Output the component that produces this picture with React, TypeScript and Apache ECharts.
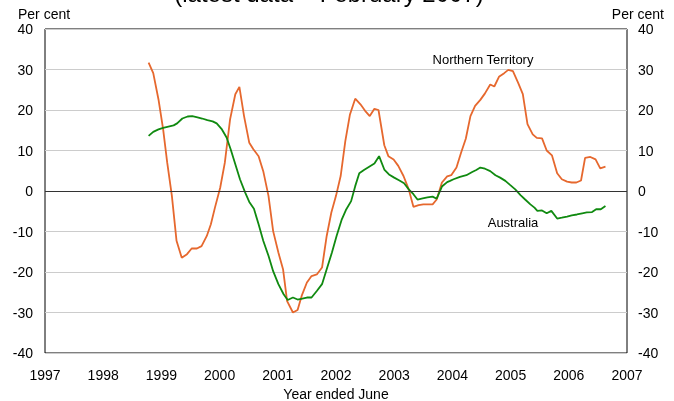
import React, { useEffect, useRef } from "react";
import * as echarts from "echarts";

const xTickYears = [1997, 1998, 1999, 2000, 2001, 2002, 2003, 2004, 2005, 2006, 2007];
const yTicks = [-40, -30, -20, -10, 0, 10, 20, 30, 40];

// [year position, per cent]
const ntData: [number, number][] = [
  [1998.78, 31.7], [1998.86, 29.1], [1998.95, 22.6], [1999.03, 15.2], [1999.1, 7.0], [1999.18, -1.2],
  [1999.26, -12.3], [1999.35, -16.5], [1999.44, -15.6], [1999.52, -14.2], [1999.61, -14.2], [1999.69, -13.6],
  [1999.78, -11.1], [1999.85, -8.2], [1999.92, -4.1], [2000.01, 0.8], [2000.09, 7.0], [2000.18, 17.7],
  [2000.27, 23.9], [2000.34, 25.7], [2000.42, 18.5], [2000.51, 11.9], [2000.58, 10.3], [2000.67, 8.6],
  [2000.75, 4.9], [2000.84, -1.2], [2000.92, -9.9], [2001.01, -15.2], [2001.09, -19.3], [2001.16, -27.2],
  [2001.26, -30.0], [2001.34, -29.4], [2001.41, -25.9], [2001.5, -22.6], [2001.58, -21.0], [2001.67, -20.6],
  [2001.76, -18.9], [2001.84, -11.1], [2001.92, -5.3], [2002.0, -1.2], [2002.08, 3.7], [2002.16, 12.3],
  [2002.24, 18.9], [2002.33, 22.8], [2002.42, 21.4], [2002.5, 19.8], [2002.58, 18.5], [2002.66, 20.3],
  [2002.73, 20.0], [2002.83, 11.3], [2002.9, 8.6], [2002.99, 7.8], [2003.07, 6.2], [2003.16, 3.7],
  [2003.25, 0.4], [2003.33, -3.9], [2003.42, -3.5], [2003.5, -3.3], [2003.59, -3.3], [2003.66, -3.3],
  [2003.73, -2.1], [2003.82, 2.1], [2003.91, 3.6], [2003.98, 3.9], [2004.07, 5.8], [2004.15, 9.5],
  [2004.23, 12.9], [2004.31, 18.5], [2004.39, 21.0], [2004.48, 22.5], [2004.56, 24.1], [2004.65, 26.3],
  [2004.72, 25.8], [2004.8, 28.2], [2004.89, 29.1], [2004.96, 29.9], [2005.04, 29.6], [2005.13, 26.7],
  [2005.21, 23.9], [2005.29, 16.5], [2005.38, 14.0], [2005.45, 13.1], [2005.54, 13.0], [2005.62, 10.0],
  [2005.71, 8.8], [2005.8, 4.4], [2005.88, 2.9], [2005.97, 2.3], [2006.05, 2.1], [2006.13, 2.1],
  [2006.21, 2.6], [2006.28, 8.2], [2006.37, 8.4], [2006.46, 7.8], [2006.54, 5.6], [2006.63, 6.0],
];

const ausData: [number, number][] = [
  [1998.78, 13.6], [1998.86, 14.6], [1998.95, 15.2], [1999.03, 15.6], [1999.12, 15.9], [1999.21, 16.2],
  [1999.27, 16.7], [1999.36, 17.9], [1999.45, 18.4], [1999.53, 18.5], [1999.62, 18.2], [1999.7, 17.9],
  [1999.79, 17.5], [1999.88, 17.2], [1999.95, 16.7], [2000.04, 15.2], [2000.12, 13.2], [2000.19, 10.3],
  [2000.27, 6.6], [2000.35, 2.9], [2000.44, -0.4], [2000.51, -2.7], [2000.59, -4.4], [2000.67, -8.2],
  [2000.75, -12.3], [2000.84, -16.0], [2000.92, -19.8], [2001.01, -23.0], [2001.1, -25.5], [2001.17, -26.9],
  [2001.26, -26.3], [2001.34, -26.8], [2001.42, -26.6], [2001.5, -26.3], [2001.58, -26.3], [2001.67, -24.7],
  [2001.76, -23.0], [2001.84, -19.3], [2001.93, -15.2], [2002.01, -11.1], [2002.1, -7.0], [2002.17, -4.7],
  [2002.26, -2.5], [2002.33, 1.2], [2002.4, 4.4], [2002.48, 5.2], [2002.57, 6.0], [2002.66, 6.8],
  [2002.74, 8.6], [2002.83, 5.3], [2002.91, 4.1], [2003.0, 3.3], [2003.09, 2.6], [2003.17, 1.9],
  [2003.25, 0.4], [2003.33, -0.8], [2003.4, -2.1], [2003.49, -1.8], [2003.57, -1.6], [2003.66, -1.4],
  [2003.73, -1.9], [2003.82, 1.1], [2003.91, 2.2], [2003.96, 2.5], [2004.02, 2.9], [2004.13, 3.5],
  [2004.24, 3.9], [2004.34, 4.7], [2004.41, 5.2], [2004.48, 5.8], [2004.56, 5.5], [2004.65, 4.9],
  [2004.74, 3.9], [2004.82, 3.3], [2004.91, 2.5], [2004.99, 1.5], [2005.08, 0.4], [2005.17, -1.0],
  [2005.25, -2.1], [2005.34, -3.3], [2005.41, -4.1], [2005.46, -4.9], [2005.54, -4.8], [2005.62, -5.5],
  [2005.7, -4.9], [2005.8, -6.8], [2005.88, -6.6], [2005.97, -6.3], [2006.05, -6.0], [2006.14, -5.8],
  [2006.23, -5.5], [2006.31, -5.3], [2006.4, -5.2], [2006.47, -4.5], [2006.55, -4.5], [2006.63, -3.7],
];

const FONT = "'Liberation Sans', Arial, sans-serif";

export default function App() {
  const ref = useRef<HTMLDivElement>(null);
  useEffect(() => {
    if (!ref.current) return;
    const chart = echarts.init(ref.current, undefined, { renderer: "svg" });
    const yAxisCommon = {
      type: "value",
      min: yTicks[0],
      max: yTicks[yTicks.length - 1],
      interval: 10,
      axisLine: { show: false },
      axisTick: { show: false },
      axisLabel: { color: "#000", fontSize: 14, fontFamily: FONT },
    };
    chart.setOption({
      animation: false,
      textStyle: { fontFamily: FONT },
      grid: {
        left: 45,
        right: 47,
        top: 29,
        bottom: 48,
        show: true,
        borderColor: "#000",
        borderWidth: 1,
        backgroundColor: "transparent",
      },
      xAxis: {
        type: "value",
        min: xTickYears[0],
        max: xTickYears[xTickYears.length - 1],
        interval: 1,
        axisLine: { show: false },
        axisTick: { show: false },
        splitLine: { show: false },
        axisLabel: {
          color: "#000",
          fontSize: 14,
          fontFamily: FONT,
          margin: 15,
          formatter: (v: number) => String(Math.round(v)),
        },
      },
      yAxis: [
        {
          ...yAxisCommon,
          position: "left",
          axisLabel: { ...yAxisCommon.axisLabel, margin: 12 },
          splitLine: { show: true, lineStyle: { color: "#cccccc", width: 1 } },
        },
        {
          ...yAxisCommon,
          position: "right",
          axisLabel: { ...yAxisCommon.axisLabel, margin: 11 },
          splitLine: { show: false },
        },
      ],
      series: [
        {
          name: "Australia",
          type: "line",
          data: ausData,
          showSymbol: false,
          lineStyle: { color: "#108a10", width: 1.8 },
          itemStyle: { color: "#108a10" },
          z: 3,
          markLine: {
            silent: true,
            symbol: "none",
            label: { show: false },
            lineStyle: { color: "#333", width: 1, type: "solid" },
            data: [{ yAxis: 0 }],
          },
        },
        {
          name: "Northern Territory",
          type: "line",
          data: ntData,
          showSymbol: false,
          lineStyle: { color: "#e6682e", width: 1.8 },
          itemStyle: { color: "#e6682e" },
          z: 2,
        },
      ],
      graphic: [
        {
          type: "text",
          x: 329,
          y: -7,
          style: {
            text: "(latest data \u2013 February 2007)",
            font: `24px ${FONT}`,
            fill: "#000",
            align: "center",
            verticalAlign: "middle",
          },
        },
        {
          type: "text",
          x: 18,
          y: 14,
          style: { text: "Per cent", font: `14px ${FONT}`, fill: "#000", align: "left", verticalAlign: "middle" },
        },
        {
          type: "text",
          x: 664,
          y: 14,
          style: { text: "Per cent", font: `14px ${FONT}`, fill: "#000", align: "right", verticalAlign: "middle" },
        },
        {
          type: "text",
          x: 483,
          y: 59,
          style: { text: "Northern Territory", font: `13px ${FONT}`, fill: "#000", align: "center", verticalAlign: "middle" },
        },
        {
          type: "text",
          x: 513,
          y: 222,
          style: { text: "Australia", font: `13px ${FONT}`, fill: "#000", align: "center", verticalAlign: "middle" },
        },
        {
          type: "text",
          x: 336,
          y: 394,
          style: { text: "Year ended June", font: `14px ${FONT}`, fill: "#000", align: "center", verticalAlign: "middle" },
        },
      ],
    });
    return () => chart.dispose();
  }, []);
  return <div ref={ref} style={{ position: "fixed", left: 0, top: 0, width: 674, height: 401 }} />;
}
